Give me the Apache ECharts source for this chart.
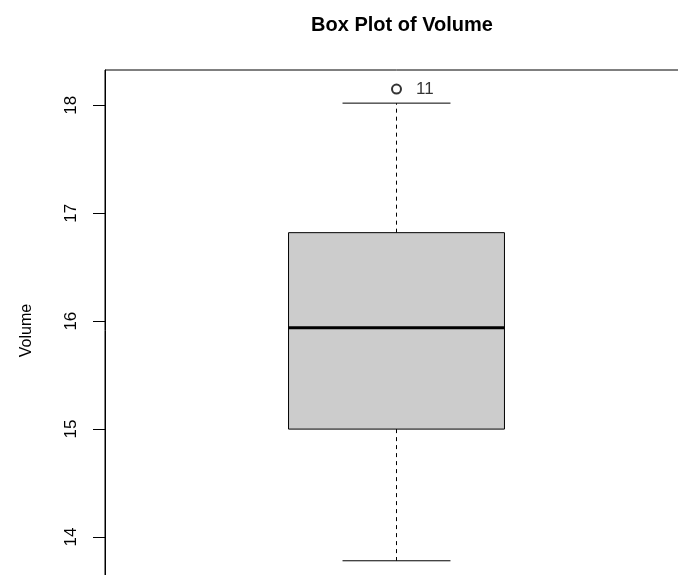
<!DOCTYPE html>
<html>
<head>
<meta charset="utf-8">
<script src="https://cdn.jsdelivr.net/npm/echarts@6/dist/echarts.min.js"></script>
<style>
  html, body { margin: 0; padding: 0; background: #fff; overflow: hidden; }
  #main { width: 700px; height: 600px; }
</style>
</head>
<body>
<div id="main"></div>
<script>
// five-number summary: lower whisker, Q1, median, Q3, upper whisker
const categories = ['Volume'];
const lowerWhisker = [13.78];
const q1 = [15.00];
const median = [15.94];
const q3 = [16.82];
const upperWhisker = [18.02];
const outlierValues = [18.15];
const outlierLabels = ['11'];
const yTicks = [14, 15, 16, 17, 18];

const boxData = categories.map((c, i) => [i + 1, lowerWhisker[i], q1[i], median[i], q3[i], upperWhisker[i]]);
const outlierData = outlierValues.map((v, i) => ({ value: [1, v], name: outlierLabels[i] }));

const renderBox = (params, api) => {
  const x = api.value(0);
  const lo = api.value(1), b1 = api.value(2), md = api.value(3), b3 = api.value(4), hi = api.value(5);
  const half = 0.2, cap = 0.1;
  const tl = api.coord([x - half, b3]);
  const br = api.coord([x + half, b1]);
  const c = (xx, yy) => api.coord([xx, yy]);
  const line = (p1, p2, style) => ({
    type: 'line',
    shape: { x1: p1[0], y1: p1[1], x2: p2[0], y2: p2[1] },
    style: Object.assign({ stroke: '#000', lineWidth: 1 }, style),
  });
  return {
    type: 'group',
    children: [
      line(c(x, b3), c(x, hi), { lineDash: [4, 4] }),
      line(c(x, b1), c(x, lo), { lineDash: [4, 4] }),
      line(c(x - cap, hi), c(x + cap, hi)),
      line(c(x - cap, lo), c(x + cap, lo)),
      {
        type: 'rect',
        shape: { x: tl[0], y: tl[1], width: br[0] - tl[0], height: br[1] - tl[1] },
        style: { fill: '#cccccc', stroke: '#000', lineWidth: 1 },
      },
      line(c(x - half, md), c(x + half, md), { lineWidth: 3 }),
    ],
  };
};

const chart = echarts.init(document.getElementById('main'));
const font = "'Liberation Sans', Arial, sans-serif";
chart.setOption({
  animation: false,
  title: {
    text: 'Box Plot of Volume',
    left: 397,
    top: 10,
    textAlign: 'center',
    textStyle: { fontFamily: font, fontSize: 20, fontWeight: 'bold', color: '#000' },
  },
  grid: {
    left: 105,
    right: 12,
    top: 70,
    bottom: 9,
    show: true,
    borderColor: '#000',
    borderWidth: 1,
    backgroundColor: 'transparent',
  },
  xAxis: {
    type: 'value',
    min: 0.46,
    max: 1.54,
    show: false,
  },
  yAxis: {
    type: 'value',
    min: 13.5,
    max: 18.327,
    name: 'Volume',
    nameLocation: 'middle',
    nameRotate: 90,
    nameGap: 70,
    nameMoveOverlap: false,
    nameTextStyle: { fontFamily: font, fontSize: 16, color: '#000' },
    axisLine: { show: true, lineStyle: { color: '#000', width: 1 } },
    axisTick: { show: true, length: 12, customValues: yTicks, lineStyle: { color: '#000' } },
    axisLabel: {
      customValues: yTicks,
      rotate: 90,
      margin: 25,
      fontFamily: font,
      fontSize: 17,
      color: '#000',
    },
    splitLine: { show: false },
  },
  series: [
    {
      type: 'custom',
      renderItem: renderBox,
      data: boxData,
      encode: { x: 0, y: [1, 2, 3, 4, 5] },
      clip: false,
    },
    {
      type: 'scatter',
      data: outlierData,
      symbol: 'emptyCircle',
      symbolSize: 9,
      itemStyle: { color: '#000', borderColor: '#000', borderWidth: 1 },
      label: {
        show: true,
        position: 'right',
        distance: 14,
        formatter: p => p.name,
        fontFamily: font,
        fontSize: 17,
        color: '#000',
      },
    },
  ],
});
</script>
</body>
</html>
